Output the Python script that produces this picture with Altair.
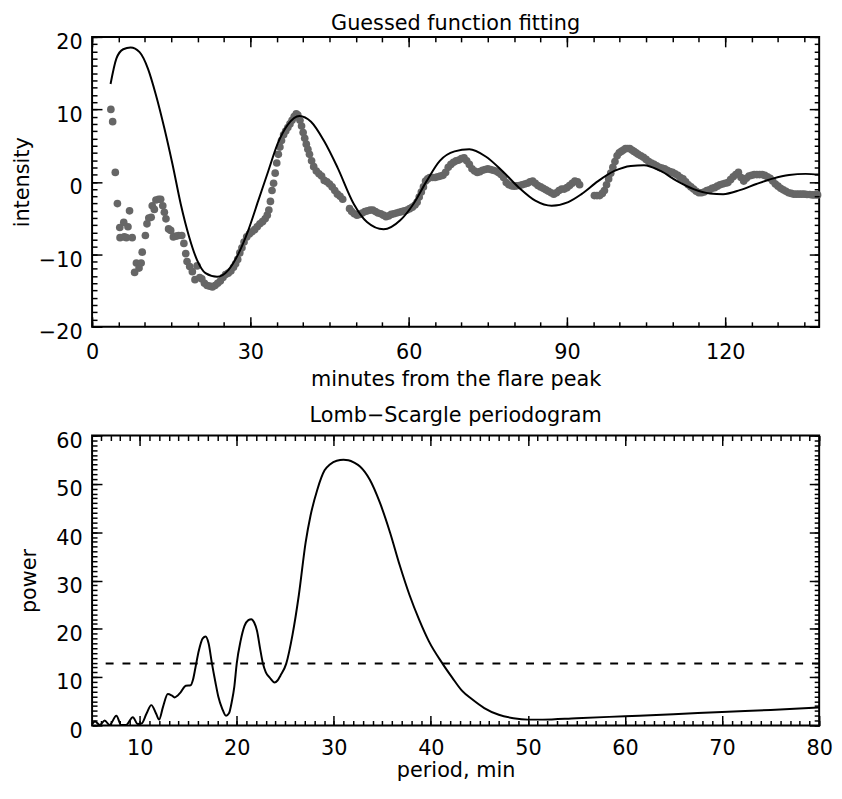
import altair as alt
import pandas as pd

FONT = "DejaVu Sans"
FS = 21
W, H = 735, 293

# ---------------- top panel data ----------------
dot_t = [3.56, 3.9, 4.4, 4.8, 5.25, 5.3, 6.0, 6.1, 6.5, 6.8, 7.1, 7.6, 8.06, 8.4, 8.9, 9.3, 9.5,
         10.1, 10.4, 10.75, 11.2, 11.4, 11.8, 12.1, 12.6, 13.0, 13.4, 13.7, 14.0, 14.5, 14.9, 15.4,
         15.9, 16.4, 17.0, 17.4, 17.75, 18.0, 18.5, 19.0, 19.5, 19.9, 20.4, 20.8, 21.3, 21.8, 22.3,
         22.8, 23.3, 23.8, 24.3, 24.8, 25.3, 25.8, 26.3, 26.8, 27.2, 27.6, 28.0, 28.4, 28.8, 29.3,
         29.8, 30.3, 30.8, 31.3, 31.8, 32.3, 32.8, 33.2, 33.5, 33.8, 34.1, 34.4, 34.7, 35.0, 35.3,
         35.6, 35.9, 36.3, 36.7, 37.1, 37.5, 37.9, 38.3, 38.7, 39.0, 39.4, 39.7, 40.0, 40.3, 40.6,
         40.9, 41.2, 41.6, 42.0, 42.5, 43.0, 43.5, 44.0, 44.5, 45.0, 45.5, 46.0, 46.5, 47.0, 47.5,
         48.8, 49.2, 49.7, 50.2, 50.7, 51.2, 51.7, 52.2, 52.7, 53.2, 53.7, 54.2, 54.7, 55.2, 55.7,
         56.2, 56.7, 57.2, 57.7, 58.2, 58.7, 59.2, 59.7, 60.2, 60.7, 61.2, 61.6, 62.0, 62.4, 62.8,
         63.2, 63.6, 64.0, 64.5, 65.0, 65.5, 66.0, 66.5, 67.0, 67.5, 68.0, 68.5, 69.0, 69.5, 70.0,
         70.5, 71.0, 71.5, 72.0, 72.5, 73.0, 73.5, 74.0, 74.5, 75.0, 75.5, 76.0, 76.5, 77.0, 77.5,
         78.0, 78.5, 79.0, 79.5, 80.0, 80.5, 81.0, 81.5, 82.0, 82.5, 83.0, 83.5, 84.0, 84.5, 85.0,
         85.5, 86.0, 86.5, 87.0, 87.5, 88.0, 88.5, 89.0, 89.5, 90.0, 90.5, 91.0, 91.5, 92.0, 92.4,
         95.2, 95.7, 96.2, 96.7, 97.1, 97.5, 97.9, 98.3, 98.7, 99.1, 99.5, 99.9, 100.3, 100.7,
         101.1, 101.5, 101.9, 102.3, 102.7, 103.1, 103.5, 104.0, 104.5, 105.0, 105.5, 106.0,
         106.5, 107.0, 107.5, 108.0, 108.5, 109.0, 109.5, 110.0, 110.5, 111.0, 111.5, 112.0,
         112.5, 113.0, 113.5, 114.0, 114.5, 115.0, 115.5, 116.0, 116.5, 117.0, 117.5, 118.0,
         118.5, 119.0, 119.5, 120.0, 120.5, 121.0, 121.5, 122.0, 122.5, 123.0, 123.5, 124.0,
         124.5, 125.0, 125.5, 126.0, 126.5, 127.0, 127.5, 128.0, 128.5, 129.0, 129.5, 130.0,
         130.5, 131.0, 131.5, 132.0, 132.5, 133.0, 133.5, 134.0, 134.5, 135.0, 135.5, 136.0,
         136.5, 137.0, 137.5]
dot_v = [10.0, 8.3, 1.3, -3.0, -6.3, -7.7, -5.6, -7.6, -7.7, -6.2, -4.0, -7.7, -12.5, -11.2, -11.9,
         -11.2, -9.7, -7.4, -5.8, -5.0, -4.9, -3.3, -3.8, -2.5, -2.4, -2.4, -3.3, -4.2, -5.1, -6.5,
         -6.7, -7.6, -7.5, -7.4, -7.4, -8.5, -9.9, -11.0, -11.7, -12.4, -13.5, -11.6, -13.2, -13.4,
         -14.0, -14.3, -14.4, -14.5, -14.3, -14.0, -13.7, -13.2, -12.8, -12.6, -12.3, -11.8, -11.3,
         -10.7, -9.8, -9.1, -8.3, -7.6, -7.2, -6.9, -6.6, -6.2, -5.8, -5.5, -5.1, -4.6, -3.9, -2.7,
         -1.2, -0.2, 1.2, 2.6, 3.8, 4.8, 5.7, 6.5, 7.0, 7.5, 8.0, 8.5, 9.0, 9.4, 9.2, 8.5, 7.7, 6.8,
         6.0, 5.2, 4.5, 3.8, 2.9, 2.1, 1.5, 1.1, 0.8, 0.2, 0.0, -0.3, -0.7, -1.2, -1.7, -2.0, -2.4,
         -3.7, -4.1, -4.4, -4.6, -4.5, -4.3, -4.1, -4.0, -3.9, -3.9, -4.1, -4.3, -4.4, -4.6, -4.8,
         -4.7, -4.5, -4.4, -4.3, -4.2, -4.1, -4.0, -3.9, -3.7, -3.5, -3.2, -2.8, -2.1, -1.4, -0.7,
         0.1, 0.4, 0.6, 0.6, 0.6, 0.7, 0.8, 0.9, 1.3, 2.0, 2.4, 2.7, 2.9, 3.0, 3.2, 3.3, 2.9, 2.4,
         1.8, 1.5, 1.3, 1.4, 1.6, 1.7, 1.8, 1.7, 1.6, 1.5, 1.3, 1.0, 0.6, -0.1, -0.4, -0.55, -0.6,
         -0.55, -0.5, -0.4, -0.3, -0.2, 0.0, 0.1, -0.2, -0.5, -0.7, -0.9, -1.1, -1.3, -1.5, -1.7,
         -1.5, -1.2, -1.0, -1.0, -0.8, -0.5, -0.2, 0.1, 0.0, -0.4,
         -1.9, -1.9, -1.9, -1.6, -1.2, -0.4, 0.4, 1.2, 2.0, 2.8, 3.6, 4.0, 4.2, 4.4, 4.6, 4.6, 4.6,
         4.4, 4.2, 4.0, 3.8, 3.6, 3.4, 3.1, 2.8, 2.6, 2.4, 2.2, 2.0, 1.9, 1.8, 1.6, 1.4, 1.3, 1.1,
         0.9, 0.6, 0.4, 0.0, -0.4, -0.7, -1.0, -1.3, -1.5, -1.5, -1.4, -1.2, -1.1, -0.9, -0.8, -0.6,
         -0.4, -0.3, -0.2, -0.1, 0.3, 0.7, 1.0, 1.3, 0.6, 0.1, 0.5, 0.8, 0.9, 1.0, 1.0, 1.0, 1.0,
         0.9, 0.7, 0.5, 0.1, -0.3, -0.6, -0.9, -1.1, -1.3, -1.5, -1.6, -1.7, -1.7, -1.7, -1.7,
         -1.7, -1.75, -1.75, -1.8, -1.8, -1.8]

fit_t = [3.5, 4.6, 5.9, 7.3, 9.0, 10.6, 12.1, 13.7, 15.25, 16.8, 18.4, 19.9, 21.5, 23.7, 25.9,
         27.75, 29.6, 31.5, 33.4, 35.25, 37.1, 39.3, 41.5, 44.0, 46.5, 49.6, 52.1, 55.25, 58.4,
         60.9, 63.4, 65.9, 68.7, 71.5, 74.6, 77.75, 80.9, 84.0, 87.1, 90.25, 92.75, 95.9, 99.0,
         102.1, 104.6, 107.75, 110.9, 114.0, 117.1, 119.6, 122.75, 125.9, 129.0, 132.1, 135.25,
         137.8]
fit_v = [13.5, 17.0, 18.3, 18.55, 17.9, 15.6, 12.0, 7.4, 2.4, -3.05, -7.6, -10.8, -12.6, -13.1,
         -12.1, -9.9, -6.7, -2.6, 1.5, 5.4, 7.9, 9.1, 8.3, 5.6, 2.0, -3.05, -5.55, -6.55, -5.3,
         -3.05, 0.1, 2.9, 4.2, 4.5, 3.5, 1.5, -0.8, -2.6, -3.3, -2.8, -1.7, 0.1, 1.5, 2.2, 2.3,
         1.5, 0.1, -1.0, -1.6, -1.7, -1.15, -0.3, 0.45, 0.95, 1.1, 1.0]

top_x_major = [0, 30, 60, 90, 120]
top_x_minor = list(range(0, 140, 5))
top_y_major = [-20, -10, 0, 10, 20]
top_y_minor = list(range(-20, 21))

# ---------------- bottom panel data ----------------
per_p = [5.1, 5.4, 5.9, 6.4, 6.9, 7.6, 8.1, 8.6, 9.3, 9.8, 10.2, 10.7, 11.2, 11.7, 12.0, 12.4,
         12.9, 13.3, 13.6, 14.2, 14.75, 15.25, 15.5, 15.75, 16.1, 16.5, 16.8, 17.1, 17.45, 17.8,
         18.1, 18.5, 18.9, 19.2, 19.5, 19.75, 20.0, 20.4, 20.8, 21.2, 21.5, 21.8, 22.1, 22.4, 22.7,
         23.0, 23.4, 23.9, 24.2, 24.5, 25.1, 25.75, 26.4, 27.1, 27.6, 28.3, 29.05, 29.6, 30.3, 31.0,
         31.5, 32.1, 32.7, 33.7, 34.75, 35.8, 36.8, 37.8, 38.8, 39.8, 41.2, 42.2, 43.2, 44.25, 45.5,
         47.0, 48.5, 50.0, 51.5, 55.0, 60.0, 65.0, 70.0, 75.0, 80.0]
per_v = [0.2, 0.8, 0.1, 1.0, 0.1, 2.0, 0.1, 0.1, 1.7, 0.3, 0.4, 2.4, 4.2, 2.4, 1.2, 3.8, 6.5, 6.2,
         5.8, 6.8, 8.2, 8.3, 9.5, 12.0, 15.5, 18.0, 18.4, 17.0, 12.8, 9.0, 6.0, 3.5, 2.0, 2.5, 5.0,
         8.0, 12.8, 17.5, 20.6, 21.8, 22.0, 21.3, 19.5, 16.0, 12.8, 11.0, 9.9, 8.9, 9.3, 10.3,
         12.8, 18.8, 27.0, 37.9, 43.4, 48.8, 52.8, 54.0, 54.8, 55.0, 54.9, 54.4, 53.6, 50.9, 46.1,
         39.9, 33.1, 27.0, 21.85, 17.4, 12.8, 9.9, 7.2, 5.4, 3.6, 2.2, 1.5, 1.2, 1.2, 1.5, 1.9,
         2.3, 2.8, 3.2, 3.7]
sig_p = [6.5, 80.0]
sig_v = [12.8, 12.8]

bot_x_major = [10, 20, 30, 40, 50, 60, 70, 80]
bot_x_minor = list(range(5, 81))
bot_y_major = [0, 10, 20, 30, 40, 50, 60]
bot_y_minor = list(range(0, 61))


def label_axis(orient, values, title, **kw):
    return alt.Axis(orient=orient, values=values, ticks=False, tickSize=0, domain=False, grid=False,
                    labelFont=FONT, labelFontSize=FS, labelColor="black", labelFlush=False,
                    labelOverlap=False, titleFont=FONT, titleFontSize=FS, titleFontWeight="normal",
                    titleColor="black", titleAlign="center", titleBaseline="alphabetic",
                    title=title, **kw)


def tick_axis(orient, values, size, offset):
    return alt.Axis(orient=orient, values=values, ticks=True, tickSize=size, tickColor="black",
                    tickWidth=1.5, labels=False, domain=False, grid=False, offset=offset, zindex=2)


def panel(main_layers, ghost_df, xdom, ydom, xmaj, xmin, ymaj, ymin, xtitle, ytitle, ytitle_x,
          xlabel_pad, xtitle_y, title, title_offset):
    xs = alt.Scale(domain=xdom, nice=False, zero=False)
    ys = alt.Scale(domain=ydom, nice=False, zero=False)

    first = main_layers[0].encode(
        x=alt.X("x:Q", scale=xs, axis=label_axis("bottom", xmaj, xtitle, labelPadding=xlabel_pad,
                                                  titleX=W / 2, titleY=xtitle_y)),
        y=alt.Y("y:Q", scale=ys, axis=label_axis("left", ymaj, ytitle, labelPadding=10,
                                                  labelOffset=6, titleX=ytitle_x, titleY=H / 2,
                                                  titleAngle=-90)),
    )
    rest = [m.encode(x=alt.X("x:Q", scale=xs, title=None, axis=tick_axis("top", xmaj, 10, -H)),
                     y=alt.Y("y:Q", scale=ys, title=None, axis=tick_axis("right", ymaj, 10, -W)))
            for m in main_layers[1:]]

    ghost = alt.Chart(ghost_df).mark_point(opacity=0)
    g1 = ghost.encode(x=alt.X("x:Q", scale=xs, title=None, axis=tick_axis("top", xmin, 5, -H)),
                      y=alt.Y("y:Q", scale=ys, title=None, axis=tick_axis("right", ymin, 5, -W)))
    g2 = ghost.encode(x=alt.X("x:Q", scale=xs, title=None, axis=tick_axis("bottom", xmaj, 10, -H)),
                      y=alt.Y("y:Q", scale=ys, title=None, axis=tick_axis("left", ymaj, 10, -W)))
    g3 = ghost.encode(x=alt.X("x:Q", scale=xs, title=None, axis=tick_axis("bottom", xmin, 5, -H)),
                      y=alt.Y("y:Q", scale=ys, title=None, axis=tick_axis("left", ymin, 5, -W)))
    layers = [first] + rest + [g1, g2, g3]
    return alt.layer(*layers).resolve_axis(x="independent", y="independent").properties(
        width=W, height=H,
        title=alt.TitleParams(title, font=FONT, fontSize=FS, fontWeight="normal", color="black",
                              anchor="middle", frame="group", baseline="alphabetic",
                              offset=title_offset),
    )


dots_df = pd.DataFrame({"x": dot_t, "y": dot_v})
fit_df = pd.DataFrame({"x": fit_t, "y": fit_v})
per_df = pd.DataFrame({"x": per_p, "y": per_v})
sig_df = pd.DataFrame({"x": sig_p, "y": sig_v})

top_dots = alt.Chart(dots_df).mark_circle(size=60, color="#666666", opacity=1)
top_fit = alt.Chart(fit_df).mark_line(color="black", strokeWidth=2, interpolate="monotone")
top = panel([top_dots, top_fit], fit_df, [0, 137.8], [-20, 20], top_x_major, top_x_minor,
            top_y_major, top_y_minor, "minutes from the flare peak", "intensity", -64, 15, 59,
            "Guessed function fitting", -19)

bot_line = alt.Chart(per_df).mark_line(color="black", strokeWidth=2, interpolate="monotone")
bot_sig = alt.Chart(sig_df).mark_line(color="black", strokeWidth=2, strokeDash=[8, 9])
bottom = panel([bot_line, bot_sig], per_df, [5.1, 80], [0, 60], bot_x_major, bot_x_minor,
               bot_y_major, bot_y_minor, "period, min", "power", -57, 12, 52,
               "Lomb\u2212Scargle periodogram", -12)

chart = alt.vconcat(top, bottom, spacing=110, bounds="flush").properties(
    padding={"left": 3, "top": 0, "right": 0, "bottom": 0},
    background="white",
).configure_view(stroke="black", strokeWidth=2)

chart.save("out.html", embed_options={"renderer": "svg", "actions": False})
